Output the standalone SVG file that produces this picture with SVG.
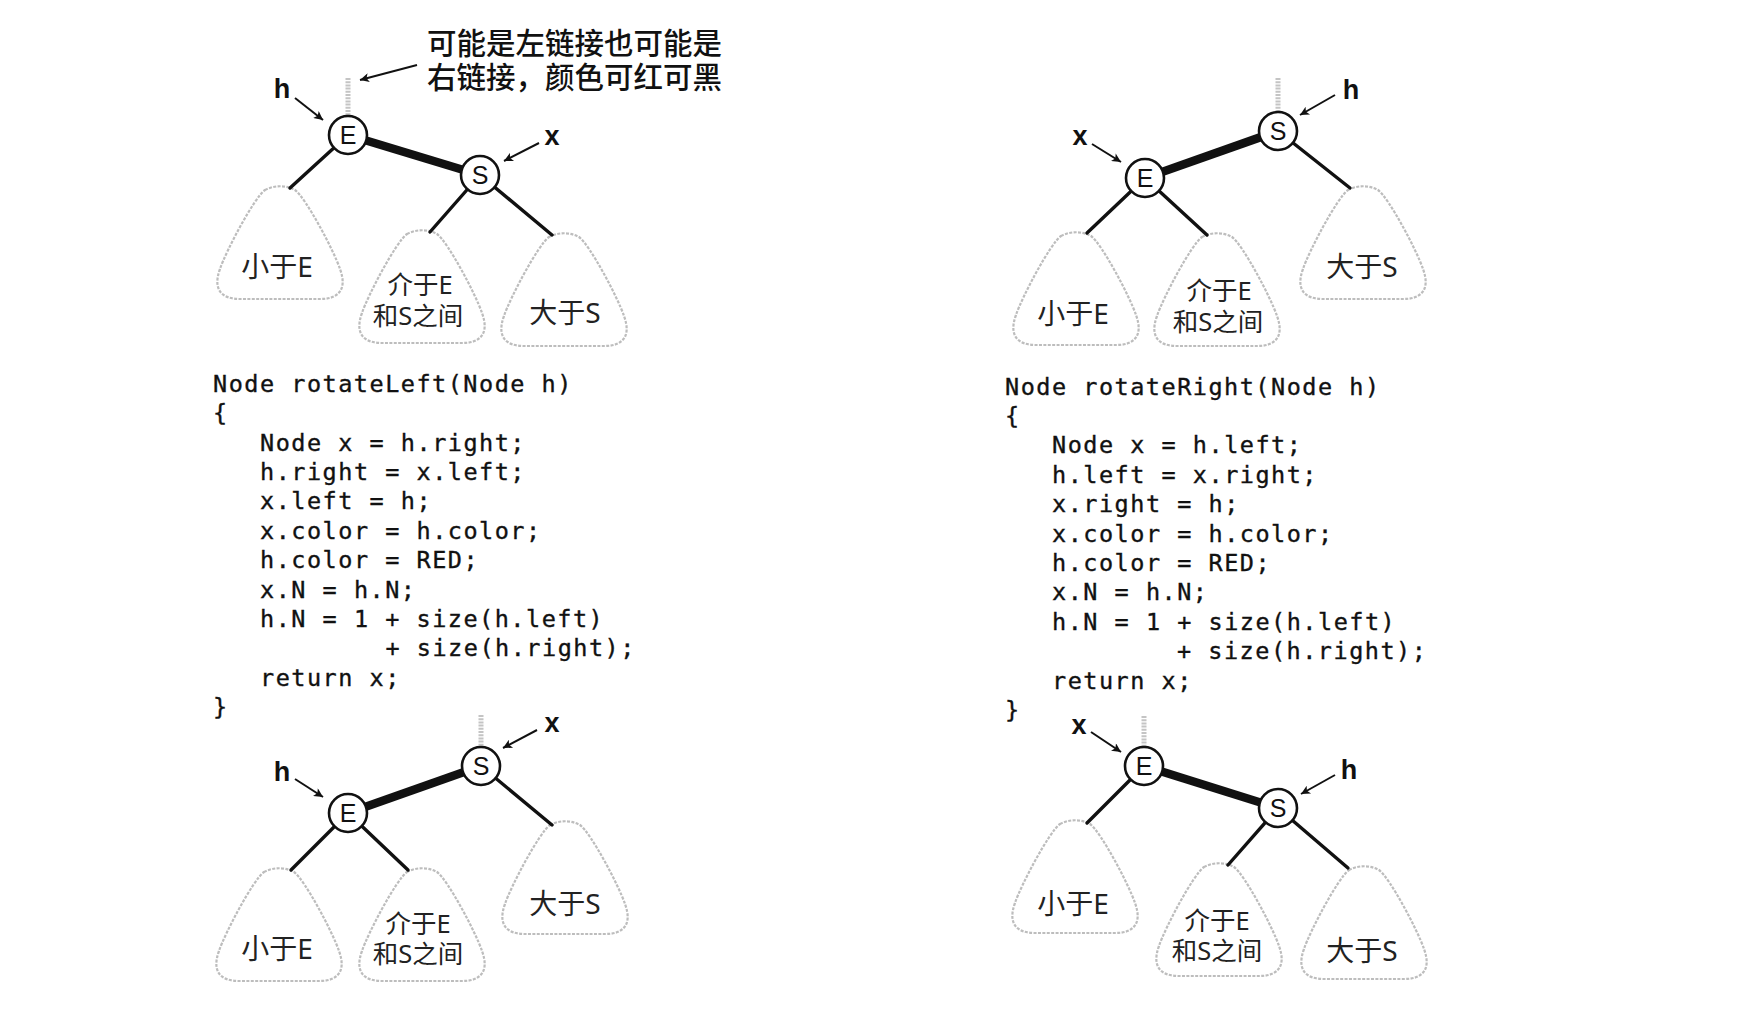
<svg xmlns="http://www.w3.org/2000/svg" width="1748" height="1010" viewBox="0 0 1748 1010">
<style>
.bg{fill:#ffffff}
.edge{stroke:#111;stroke-width:3.4;stroke-linecap:round;fill:none}
.red{stroke:#111;stroke-width:8.5;stroke-linecap:butt;fill:none}
.stub{stroke:#c4c4c4;stroke-width:5;stroke-dasharray:2 1.2;fill:none}
.ptr{stroke:#111;stroke-width:2;fill:none}
.circ{fill:#fff;stroke:#111;stroke-width:2.6}
.key{font-family:"Liberation Sans","DejaVu Sans",sans-serif;font-size:25px;fill:#111;text-anchor:middle}
.lbl{font-family:"Liberation Sans","DejaVu Sans",sans-serif;font-size:27px;font-weight:bold;fill:#111;text-anchor:middle}
.tri{fill:#fff;stroke:#bdbdbd;stroke-width:2.2;stroke-dasharray:3 1.4}
.t1{font-family:"Noto Sans","Noto Sans CJK SC",sans-serif;font-size:28px;fill:#222;text-anchor:middle}
.t2{font-family:"Noto Sans","Noto Sans CJK SC",sans-serif;font-size:25.5px;fill:#222;text-anchor:middle}
.note{font-family:"Noto Sans CJK SC",sans-serif;font-size:29.5px;font-weight:500;fill:#111}
.code{font-family:"DejaVu Sans Mono","Liberation Mono",monospace;font-size:23.5px;letter-spacing:1.5px;fill:#111;stroke:#111;stroke-width:0.35}
</style>
<defs>
<path id="tri" d="M -15,3 C -6,-2 6,-2 15,3 C 26,11 54,64 60,82 C 68,104 57,112 40,112 L -40,112 C -57,112 -68,104 -60,82 C -54,64 -26,11 -15,3 Z"/>
<marker id="ah" viewBox="0 0 10 10" refX="10" refY="5" markerWidth="12" markerHeight="9" markerUnits="userSpaceOnUse" orient="auto">
<path d="M0,0 L10,5 L0,10 L2.5,5 z" fill="#111"/>
</marker>
</defs>
<rect class="bg" x="0" y="0" width="1748" height="1010"/>

<!-- annotation -->
<g id="note">
<text class="note" x="427" y="54">可能是左链接也可能是</text>
<text class="note" x="427" y="88">右链接，颜色可红可黑</text>
</g>

<!-- subtrees -->
<g id="tl-less"><use href="#tri" class="tri" transform="translate(280,187)"/><text class="t1" x="277" y="277">小于E</text></g>
<g id="tl-mid"><use href="#tri" class="tri" transform="translate(422,231)"/><text class="t2" x="420" y="294">介于E</text><text class="t2" x="418" y="325">和S之间</text></g>
<g id="tl-more"><use href="#tri" class="tri" transform="translate(564,234)"/><text class="t1" x="565" y="323">大于S</text></g>

<g id="tr-less"><use href="#tri" class="tri" transform="translate(1076,233)"/><text class="t1" x="1073" y="324">小于E</text></g>
<g id="tr-mid"><use href="#tri" class="tri" transform="translate(1217,234)"/><text class="t2" x="1219" y="300">介于E</text><text class="t2" x="1218" y="331">和S之间</text></g>
<g id="tr-more"><use href="#tri" class="tri" transform="translate(1363,187)"/><text class="t1" x="1362" y="277">大于S</text></g>

<g id="bl-less"><use href="#tri" class="tri" transform="translate(279,869)"/><text class="t1" x="277" y="959">小于E</text></g>
<g id="bl-mid"><use href="#tri" class="tri" transform="translate(422,869)"/><text class="t2" x="418" y="933">介于E</text><text class="t2" x="418" y="963">和S之间</text></g>
<g id="bl-more"><use href="#tri" class="tri" transform="translate(565,822)"/><text class="t1" x="565" y="914">大于S</text></g>

<g id="br-less"><use href="#tri" class="tri" transform="translate(1075,821)"/><text class="t1" x="1073" y="914">小于E</text></g>
<g id="br-mid"><use href="#tri" class="tri" transform="translate(1219,864)"/><text class="t2" x="1217" y="930">介于E</text><text class="t2" x="1217" y="960">和S之间</text></g>
<g id="br-more"><use href="#tri" class="tri" transform="translate(1364,867)"/><text class="t1" x="1362" y="961">大于S</text></g>

<!-- connectors -->
<g id="connectors">
<line class="stub" x1="348" y1="78" x2="348" y2="122"/>
<line class="red" x1="348" y1="135" x2="480" y2="175"/>
<line class="edge" x1="348" y1="135" x2="290" y2="188"/>
<line class="edge" x1="480" y1="175" x2="430" y2="232"/>
<line class="edge" x1="480" y1="175" x2="552" y2="235"/>

<line class="stub" x1="1278" y1="78" x2="1278" y2="117"/>
<line class="red" x1="1278" y1="131" x2="1145" y2="178"/>
<line class="edge" x1="1145" y1="178" x2="1087" y2="233"/>
<line class="edge" x1="1145" y1="178" x2="1207" y2="235"/>
<line class="edge" x1="1278" y1="131" x2="1350" y2="188"/>

<line class="stub" x1="481" y1="715" x2="481" y2="752"/>
<line class="red" x1="348" y1="813" x2="481" y2="766"/>
<line class="edge" x1="348" y1="813" x2="291" y2="870"/>
<line class="edge" x1="348" y1="813" x2="408" y2="870"/>
<line class="edge" x1="481" y1="766" x2="552" y2="825"/>

<line class="stub" x1="1144" y1="716" x2="1144" y2="752"/>
<line class="red" x1="1144" y1="766" x2="1278" y2="808"/>
<line class="edge" x1="1144" y1="766" x2="1087" y2="823"/>
<line class="edge" x1="1278" y1="808" x2="1228" y2="865"/>
<line class="edge" x1="1278" y1="808" x2="1348" y2="868"/>
</g>

<!-- nodes -->
<g id="tl-E"><circle class="circ" cx="348" cy="135" r="19"/><text class="key" x="348" y="144">E</text></g>
<g id="tl-S"><circle class="circ" cx="480" cy="175" r="19"/><text class="key" x="480" y="184">S</text></g>
<g id="tr-S"><circle class="circ" cx="1278" cy="131" r="19"/><text class="key" x="1278" y="140">S</text></g>
<g id="tr-E"><circle class="circ" cx="1145" cy="178" r="19"/><text class="key" x="1145" y="187">E</text></g>
<g id="bl-E"><circle class="circ" cx="348" cy="813" r="19"/><text class="key" x="348" y="822">E</text></g>
<g id="bl-S"><circle class="circ" cx="481" cy="766" r="19"/><text class="key" x="481" y="775">S</text></g>
<g id="br-E"><circle class="circ" cx="1144" cy="766" r="19"/><text class="key" x="1144" y="775">E</text></g>
<g id="br-S"><circle class="circ" cx="1278" cy="808" r="19"/><text class="key" x="1278" y="817">S</text></g>

<!-- pointers -->
<g id="pointers">
<line class="ptr" x1="417" y1="65" x2="360" y2="80" marker-end="url(#ah)"/>
<text class="lbl" x="282" y="98">h</text>
<line class="ptr" x1="295" y1="98" x2="323" y2="120" marker-end="url(#ah)"/>
<text class="lbl" x="552" y="145">x</text>
<line class="ptr" x1="539" y1="143" x2="504" y2="161" marker-end="url(#ah)"/>

<text class="lbl" x="1351" y="99">h</text>
<line class="ptr" x1="1335" y1="95" x2="1300" y2="115" marker-end="url(#ah)"/>
<text class="lbl" x="1080" y="145">x</text>
<line class="ptr" x1="1092" y1="144" x2="1121" y2="162" marker-end="url(#ah)"/>

<text class="lbl" x="552" y="732">x</text>
<line class="ptr" x1="537" y1="730" x2="503" y2="748" marker-end="url(#ah)"/>
<text class="lbl" x="282" y="781">h</text>
<line class="ptr" x1="295" y1="779" x2="323" y2="797" marker-end="url(#ah)"/>

<text class="lbl" x="1079" y="734">x</text>
<line class="ptr" x1="1091" y1="732" x2="1121" y2="752" marker-end="url(#ah)"/>
<text class="lbl" x="1349" y="779">h</text>
<line class="ptr" x1="1335" y1="775" x2="1301" y2="794" marker-end="url(#ah)"/>
</g>

<!-- code -->
<g id="code-left">
<text class="code" x="213" y="391.7">Node rotateLeft(Node h)</text>
<text class="code" x="213" y="421.1">{</text>
<text class="code" x="260" y="450.5">Node x = h.right;</text>
<text class="code" x="260" y="479.9">h.right = x.left;</text>
<text class="code" x="260" y="509.3">x.left = h;</text>
<text class="code" x="260" y="538.7">x.color = h.color;</text>
<text class="code" x="260" y="568.1">h.color = RED;</text>
<text class="code" x="260" y="597.5">x.N = h.N;</text>
<text class="code" x="260" y="626.9">h.N = 1 + size(h.left)</text>
<text class="code" x="385.5" y="656.3">+ size(h.right);</text>
<text class="code" x="260" y="685.7">return x;</text>
<text class="code" x="213" y="715.1">}</text>
</g>
<g id="code-right">
<text class="code" x="1005" y="394.5">Node rotateRight(Node h)</text>
<text class="code" x="1005" y="423.9">{</text>
<text class="code" x="1052" y="453.3">Node x = h.left;</text>
<text class="code" x="1052" y="482.7">h.left = x.right;</text>
<text class="code" x="1052" y="512.1">x.right = h;</text>
<text class="code" x="1052" y="541.5">x.color = h.color;</text>
<text class="code" x="1052" y="570.9">h.color = RED;</text>
<text class="code" x="1052" y="600.3">x.N = h.N;</text>
<text class="code" x="1052" y="629.7">h.N = 1 + size(h.left)</text>
<text class="code" x="1177" y="659.1">+ size(h.right);</text>
<text class="code" x="1052" y="688.5">return x;</text>
<text class="code" x="1005" y="717.9">}</text>
</g>
</svg>
